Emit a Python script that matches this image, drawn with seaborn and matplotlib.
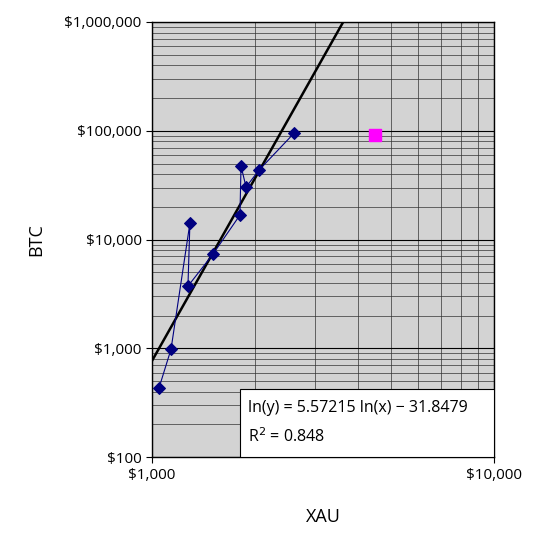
import numpy as np
import matplotlib
matplotlib.use("Agg")
import matplotlib.pyplot as plt
import seaborn as sns
from matplotlib.ticker import FixedLocator, LogLocator, NullFormatter
from matplotlib.patches import Rectangle

sns.set_style("white")
plt.rcParams['font.family'] = ['Open Sans', 'DejaVu Sans']
plt.rcParams['text.color'] = 'black'
plt.rcParams['xtick.color'] = 'black'
plt.rcParams['ytick.color'] = 'black'
plt.rcParams['axes.labelcolor'] = 'black'

xau = [1048, 1137, 1291, 1274, 1508, 1808, 1821, 1884, 2055, 2604]
btc = [431, 985, 14180, 3735, 7360, 16800, 47400, 30400, 43500, 95300]
cur_xau = [4490]
cur_btc = [91400]
slope, intercept = 5.57215, -31.8479
xticks = [1000, 10000]
xticklabels = ["$1,000", "$10,000"]
yticks = [100, 1000, 10000, 100000, 1000000]
yticklabels = ["$100", "$1,000", "$10,000", "$100,000", "$1,000,000"]

fig = plt.figure(figsize=(5.37, 5.43), dpi=100)
ax = fig.add_axes([0.283, 0.158, 0.637, 0.8015])
ax.set_facecolor("#D3D3D3")
ax.set_xscale("log"); ax.set_yscale("log")
ax.set_xlim(1000, 10000); ax.set_ylim(100, 1000000)

ax.yaxis.set_minor_locator(LogLocator(base=10, subs=np.arange(2, 10)))
ax.xaxis.set_minor_locator(LogLocator(base=10, subs=np.arange(2, 10)))
ax.grid(True, which="major", color="black", lw=0.8)
ax.grid(True, which="minor", color="#333333", lw=0.5)
ax.set_axisbelow(True)

tx = np.linspace(1000, 10000, 400)
ax.plot(tx, np.exp(slope*np.log(tx)+intercept), color="black", lw=1.8, zorder=3)
sns.lineplot(x=xau, y=btc, sort=False, ax=ax, color="#000080", lw=0.8, zorder=4,
             marker="D", markersize=6, markeredgecolor="#000080")
ax.scatter(cur_xau, cur_btc, marker="s", s=70, color="#FF00FF", zorder=5)

ax.xaxis.set_major_locator(FixedLocator(xticks))
ax.set_xticklabels(xticklabels)
ax.yaxis.set_major_locator(FixedLocator(yticks))
ax.set_yticklabels(yticklabels)
ax.xaxis.set_minor_formatter(NullFormatter()); ax.yaxis.set_minor_formatter(NullFormatter())
ax.tick_params(labelsize=11, length=4, which="major", direction="out", bottom=True, left=True)
ax.tick_params(which="minor", length=0)
for s in ax.spines.values():
    s.set_color("black"); s.set_linewidth(1)
ax.set_xlabel("XAU", fontsize=13, labelpad=18)
ax.set_ylabel("BTC", fontsize=13, labelpad=14)

ax.add_patch(Rectangle((0.257, 0.0), 0.743, 0.156, transform=ax.transAxes,
                       fc="white", ec="black", lw=0.8, zorder=6))
ax.text(0.28, 0.113, "ln(y) = 5.57215 ln(x) \u2212 31.8479", transform=ax.transAxes,
        fontsize=11.5, va="center", ha="left", zorder=7)
ax.text(0.28, 0.048, "R$^2$ = 0.848", transform=ax.transAxes,
        fontsize=11.5, va="center", ha="left", zorder=7)
fig.savefig("out.png", dpi=100)
